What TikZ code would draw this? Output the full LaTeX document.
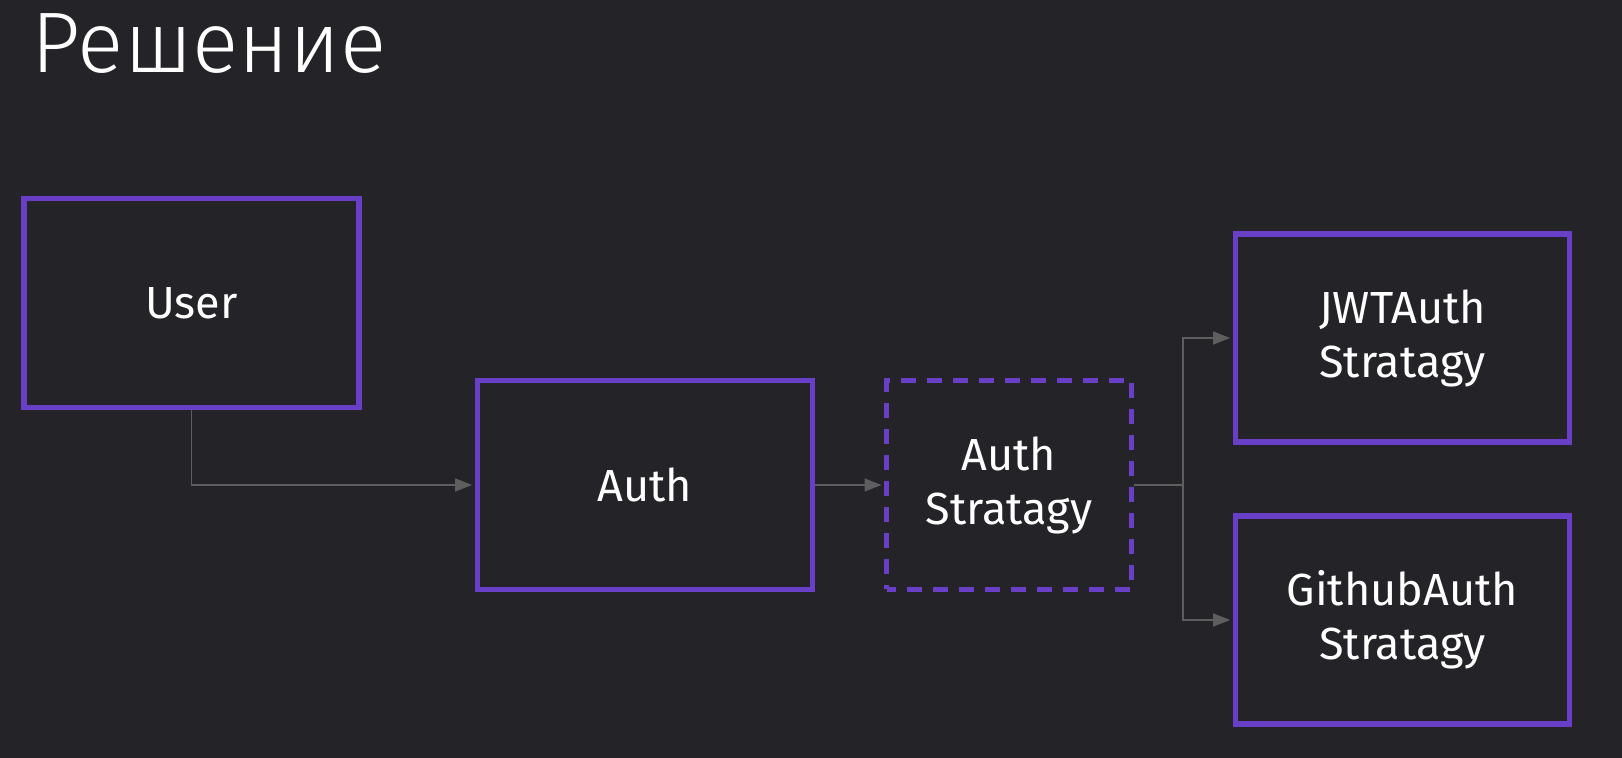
\documentclass[tikz,border=0pt]{standalone}
\usepackage{fontspec}
\setmainfont{Fira Sans}
\IfFontExistsTF{Fira Sans Light}{\newfontfamily\titlefont{Fira Sans Light}}{\newfontfamily\titlefont{Fira Sans}}
\usetikzlibrary{arrows.meta}
\definecolor{bgdark}{HTML}{232328}
\definecolor{boxpurple}{HTML}{6A3FC7}
\definecolor{linegray}{HTML}{5E5E5E}
\tikzset{
	box/.style={draw=boxpurple, line width=2.8pt, minimum width=167.5pt, minimum height=104.5pt, text=white, align=center, font=\fontsize{22.5}{27}\selectfont},
	conn/.style={draw=linegray, line width=0.75pt, -{Stealth[inset=0pt, length=8.5pt, width=6.5pt]}, shorten >=1.3pt}
}
\begin{document}
\begin{tikzpicture}[x=0.5pt, y=-0.5pt]
	\def\splitx{1183};
	\fill[bgdark] (0,0) rectangle (1622,758);
	\node[anchor=base west, inner sep=0pt, text=white, font=\titlefont\fontsize{43}{50}\selectfont] (title) at (31,73) {Решение};
	\node[box] (user) at (191.5,303) {User};
	\node[box] (auth) at (645,485) {Auth};
	\node[box, dash pattern=on 7.5pt off 5.5pt, dash phase=3pt, line width=2.4pt, minimum width=122.5pt] (strat) at (1009,485) {Auth\\Stratagy};
	\node[box, minimum width=167pt, minimum height=104pt] (jwt) at (1402.5,338) {JWTAuth\\Stratagy};
	\node[box, minimum width=167pt, minimum height=104pt] (github) at (1402.5,620) {GithubAuth\\Stratagy};
	\coordinate (split) at (\splitx,485);
	\draw[conn] (user.south) |- (auth.west);
	\draw[conn] (auth.east) -- (strat.west);
	\draw[conn] (strat.east) -- (split) |- (jwt.west);
	\draw[conn] (split) |- (github.west);
\end{tikzpicture}
\end{document}
